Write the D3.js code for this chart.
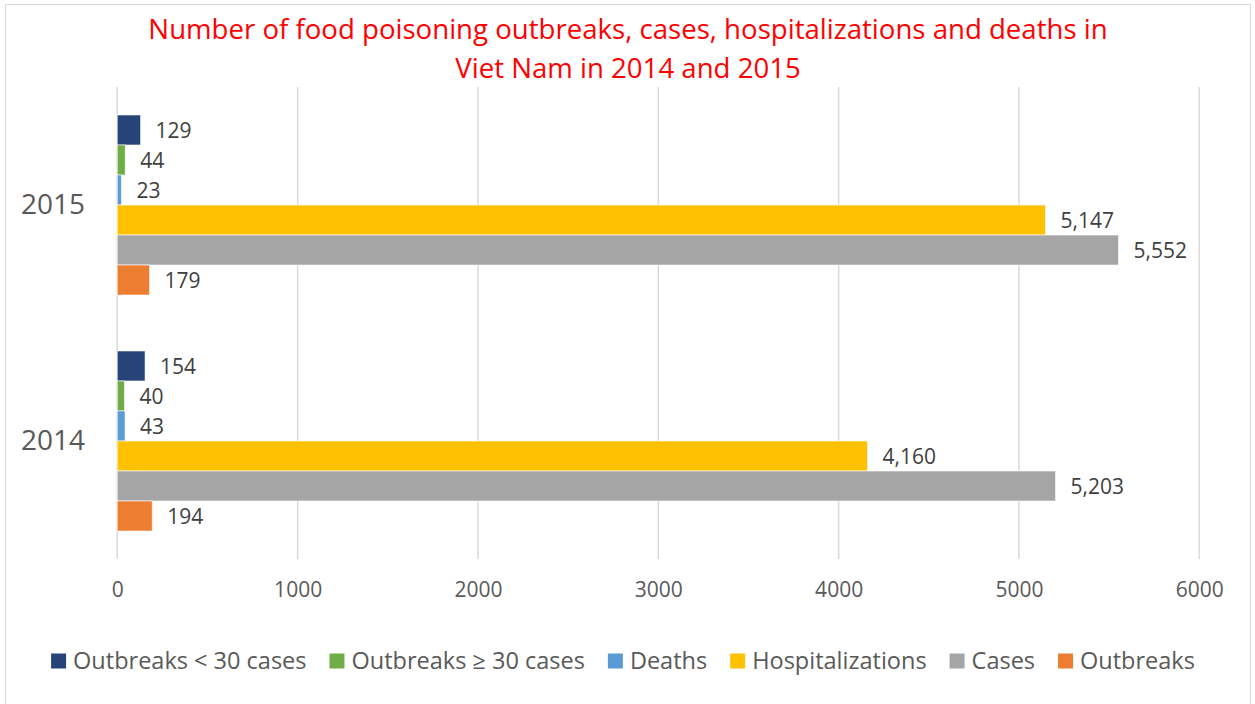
<!DOCTYPE html>
<html>
<head>
<meta charset="utf-8">
<script src="https://cdn.jsdelivr.net/npm/d3@7"></script>
<style>
  html, body { margin: 0; padding: 0; background: #fff; }
  svg { display: block; }
  text { font-family: "Open Sans", "Noto Sans", sans-serif; }
</style>
</head>
<body>
<svg id="chart" width="1255" height="704"></svg>
<script>
// Years shown on the vertical axis (top to bottom)
const years = ["2015", "2014"];

// Series, in legend order (also top-to-bottom order inside each year)
const seriesNames = [
  "Outbreaks < 30 cases",
  "Outbreaks \u2265 30 cases",
  "Deaths",
  "Hospitalizations",
  "Cases",
  "Outbreaks"
];
const seriesColors = ["#264478", "#70AD47", "#5B9BD5", "#FFC000", "#A5A5A5", "#ED7D31"];

// Values per series, indexed like `years`
const outbreaksUnder30 = [129, 154];
const outbreaksOver30 = [44, 40];
const deaths = [23, 43];
const hospitalizations = [5147, 4160];
const cases = [5552, 5203];
const outbreaks = [179, 194];

const xTicks = [0, 1000, 2000, 3000, 4000, 5000, 6000];

const titleLines = [
  "Number of food poisoning outbreaks, cases, hospitalizations and deaths in",
  "Viet Nam in 2014 and 2015"
];

const seriesValues = [outbreaksUnder30, outbreaksOver30, deaths, hospitalizations, cases, outbreaks];

const rows = years.map((y, i) => ({
  year: y,
  values: seriesNames.map((name, s) => ({ name, value: seriesValues[s][i], color: seriesColors[s] }))
}));

const svg = d3.select("#chart");

// chart frame
svg.append("rect")
  .attr("x", 5.5).attr("y", 4.5)
  .attr("width", 1245).attr("height", 720)
  .attr("fill", "#fff").attr("stroke", "#d9d9d9").attr("stroke-width", 1);

const plot = { left: 117.3, right: 1199.3, top: 87, bottom: 559 };

const x = d3.scaleLinear().domain([0, 6000]).range([plot.left, plot.right]);
const y = d3.scaleBand().domain(years).range([plot.top, plot.bottom])
  .paddingInner(0.237).paddingOuter(0.1186);
const yInner = d3.scaleBand().domain(seriesNames).range([0, y.bandwidth()]).padding(0);

// title
svg.append("g").selectAll("text")
  .data(titleLines)
  .join("text")
  .attr("x", 628)
  .attr("y", (d, i) => 39 + i * 38.5)
  .attr("text-anchor", "middle")
  .attr("fill", "#FF0000")
  .attr("font-size", 27.6)
  .text(d => d);

// vertical gridlines
svg.append("g").selectAll("line")
  .data(xTicks)
  .join("line")
  .attr("x1", d => x(d)).attr("x2", d => x(d))
  .attr("y1", plot.top).attr("y2", plot.bottom)
  .attr("stroke", "#d9d9d9").attr("stroke-width", 1.5);

// bottom axis labels (no axis line, no ticks)
const xAxis = d3.axisBottom(x).tickValues(xTicks).tickSize(0).tickPadding(0).tickFormat(d3.format("d"));
const xg = svg.append("g")
  .attr("transform", `translate(0,${plot.bottom + 23})`)
  .call(xAxis);
xg.select(".domain").remove();
xg.selectAll("text")
  .attr("font-family", "Open Sans, Noto Sans, sans-serif")
  .attr("font-size", 21)
  .attr("fill", "#595959");

// year labels
const yAxis = d3.axisLeft(y).tickSize(0).tickPadding(0);
const yg = svg.append("g")
  .attr("transform", `translate(${85},0)`)
  .call(yAxis);
yg.select(".domain").remove();
yg.selectAll("text")
  .attr("font-family", "Open Sans, Noto Sans, sans-serif")
  .attr("font-size", 28)
  .attr("fill", "#595959");

// bars
const groups = svg.append("g").selectAll("g")
  .data(rows)
  .join("g")
  .attr("transform", d => `translate(0,${y(d.year)})`);

groups.selectAll("rect")
  .data(d => d.values)
  .join("rect")
  .attr("x", x(0))
  .attr("y", d => yInner(d.name))
  .attr("width", d => x(d.value) - x(0))
  .attr("height", yInner.bandwidth())
  .attr("fill", d => d.color)
  .attr("stroke", "#ffffff")
  .attr("stroke-opacity", 0.6)
  .attr("stroke-width", 1);

// value labels
const fmt = d3.format(",");
groups.selectAll("text")
  .data(d => d.values)
  .join("text")
  .attr("x", d => x(d.value) + 15)
  .attr("y", d => yInner(d.name) + yInner.bandwidth() / 2)
  .attr("dy", "0.36em")
  .attr("font-size", 21)
  .attr("fill", "#404040")
  .text(d => fmt(d.value));

// legend
const legend = svg.append("g");
const legendItems = legend.selectAll("g")
  .data(seriesNames.map((n, i) => ({ name: n, color: seriesColors[i] })))
  .join("g");
legendItems.append("rect")
  .attr("width", 15).attr("height", 15)
  .attr("y", -7.5)
  .attr("fill", d => d.color);
legendItems.append("text")
  .attr("x", 22)
  .attr("dy", "0.36em")
  .attr("font-size", 23.5)
  .attr("fill", "#595959")
  .text(d => d.name);

let cursor = 0;
const gap = 23;
legendItems.each(function () {
  const g = d3.select(this);
  const w = 22 + g.select("text").node().getComputedTextLength();
  g.attr("transform", `translate(${cursor},0)`);
  cursor += w + gap;
});
const legendWidth = cursor - gap;
legend.attr("transform", `translate(${623 - legendWidth / 2},661)`);
</script>
</body>
</html>
